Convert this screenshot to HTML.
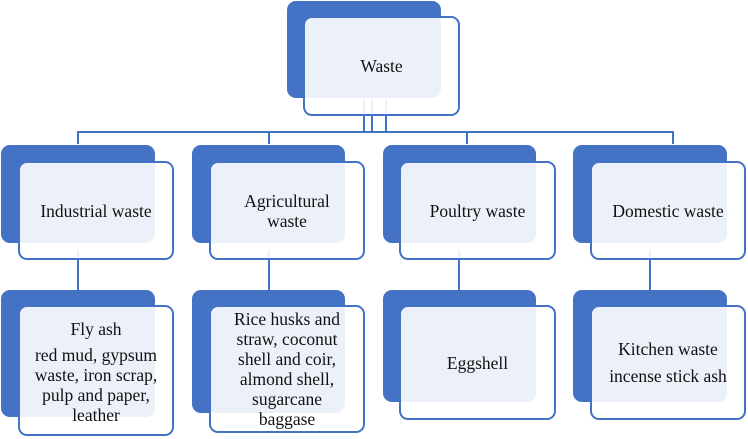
<!DOCTYPE html>
<html><head><style>
body{margin:0;width:748px;height:439px;background:#fff;position:relative;overflow:hidden;font-family:"Liberation Serif",serif;}
.b{position:absolute;background:#4472c4;border-radius:9px;}
.f{position:absolute;box-sizing:border-box;border:2px solid #4472c4;border-radius:9px;background:rgba(255,255,255,0.9);display:flex;align-items:center;justify-content:center;text-align:center;font-size:17.5px;line-height:20px;color:#111;}
.l{position:absolute;background:#4472c4;}
</style></head><body>
<div class="l" style="left:78px;top:131px;width:596px;height:2px"></div>
<div class="l" style="left:363px;top:100px;width:2px;height:33px"></div>
<div class="l" style="left:371px;top:100px;width:2px;height:33px"></div>
<div class="l" style="left:385px;top:100px;width:2px;height:33px"></div>
<div class="l" style="left:77px;top:131px;width:2px;height:13px"></div>
<div class="l" style="left:268px;top:131px;width:2px;height:13px"></div>
<div class="l" style="left:466px;top:131px;width:2px;height:13px"></div>
<div class="l" style="left:672px;top:131px;width:2px;height:13px"></div>
<div class="l" style="left:77px;top:250px;width:2px;height:40px"></div>
<div class="l" style="left:268px;top:250px;width:2px;height:40px"></div>
<div class="l" style="left:458px;top:250px;width:2px;height:40px"></div>
<div class="l" style="left:649px;top:250px;width:2px;height:40px"></div>

<div class="b" style="left:287px;top:1px;width:154px;height:97px"></div>
<div class="f" style="left:303px;top:16px;width:157px;height:100px">Waste</div>

<div class="b" style="left:1px;top:145px;width:154px;height:98px"></div>
<div class="f" style="left:18px;top:161px;width:156px;height:99px">Industrial waste</div>
<div class="b" style="left:192px;top:145px;width:153px;height:98px"></div>
<div class="f" style="left:209px;top:161px;width:156px;height:99px">Agricultural<br>waste</div>
<div class="b" style="left:383px;top:145px;width:153px;height:98px"></div>
<div class="f" style="left:399px;top:161px;width:157px;height:99px">Poultry waste</div>
<div class="b" style="left:573px;top:145px;width:154px;height:98px"></div>
<div class="f" style="left:590px;top:161px;width:156px;height:99px">Domestic waste</div>

<div class="b" style="left:1px;top:290px;width:154px;height:127px"></div>
<div class="f" style="left:18px;top:305px;width:156px;height:131px;flex-direction:column;line-height:20px;padding-top:2px">Fly ash<div style="height:6px"></div>red mud, gypsum<br>waste, iron scrap,<br>pulp and paper,<br>leather</div>
<div class="b" style="left:192px;top:290px;width:153px;height:123px"></div>
<div class="f" style="left:209px;top:305px;width:156px;height:128px;line-height:20px">Rice husks and<br>straw, coconut<br>shell and coir,<br>almond shell,<br>sugarcane<br>baggase</div>
<div class="b" style="left:383px;top:290px;width:153px;height:112px"></div>
<div class="f" style="left:399px;top:305px;width:157px;height:115px">Eggshell</div>
<div class="b" style="left:573px;top:290px;width:154px;height:112px"></div>
<div class="f" style="left:590px;top:305px;width:156px;height:115px;line-height:27px">Kitchen waste<br>incense stick ash</div>
</body></html>
